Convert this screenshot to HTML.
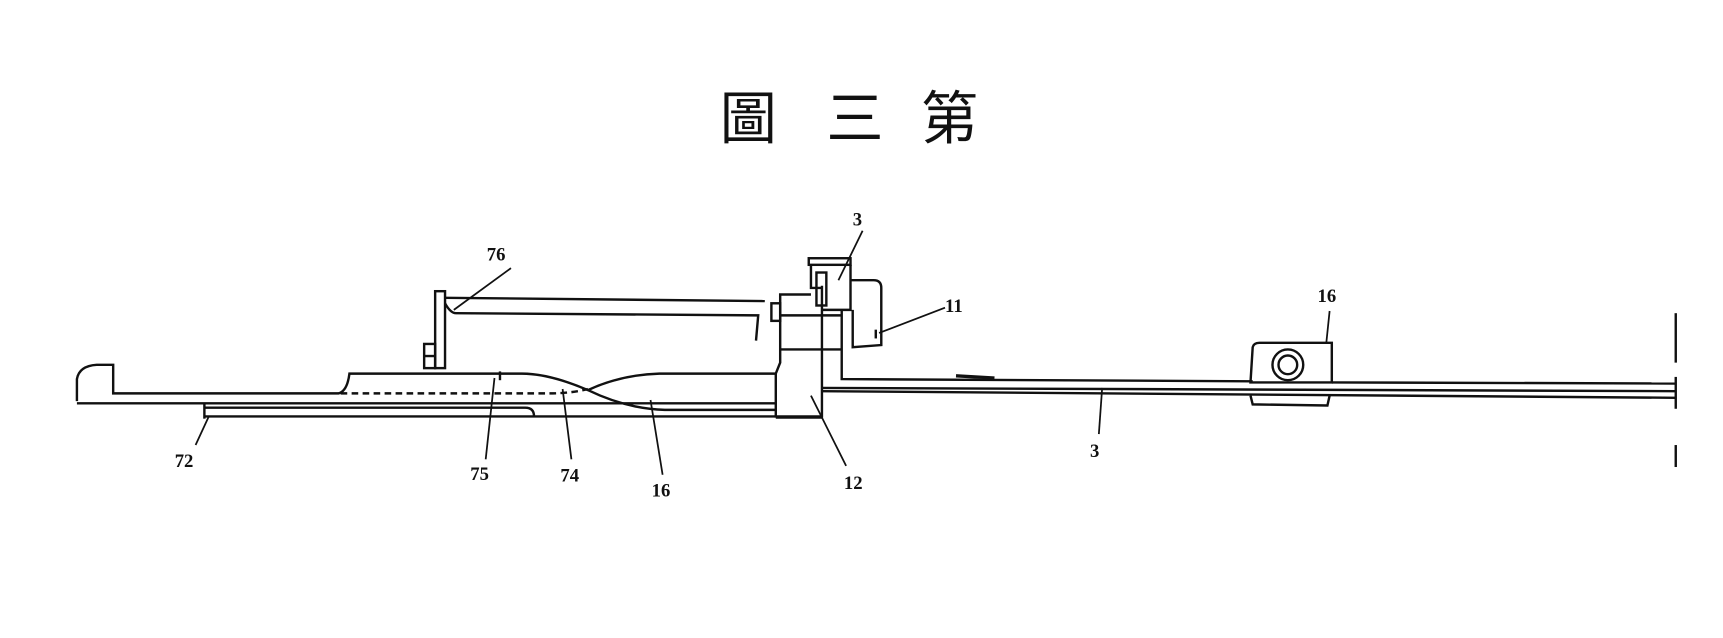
<!DOCTYPE html>
<html><head><meta charset="utf-8"><style>
html,body{margin:0;padding:0;background:#fff;}
svg{display:block}
text{font-family:"Liberation Serif","Noto Serif CJK SC",serif;fill:#111}
</style></head><body>
<svg width="1723" height="638" viewBox="0 0 1568 580.6" preserveAspectRatio="none" xmlns="http://www.w3.org/2000/svg">
<g font-size="52" fill="#222">
<text x="655" y="126" style="font-family:'Noto Sans CJK TC',sans-serif">圖</text>
<text x="752" y="126" style="font-family:'Noto Sans CJK TC',sans-serif">三</text>
<text x="838" y="126" style="font-family:'Noto Sans CJK TC',sans-serif">第</text>
</g>
<g fill="none" stroke="#111" stroke-width="2.2">
<path d="M70,365 L70,345 Q72,333 88,332 L103,332 L103,358 L308,358 Q316,356 318,340 L455,340"/>
<line x1="70" y1="367" x2="706" y2="367"/>
<line x1="186" y1="379" x2="748" y2="379"/>
<path d="M186,371 L478,371 Q486,371 486,379"/>
<line x1="186" y1="367" x2="186" y2="381"/>
<path d="M310,358 L500,358 Q520,358 535,354" stroke-dasharray="6,4"/>
<line x1="455" y1="338" x2="455" y2="346"/>
<path d="M455,340 L475,340 Q500,340 535,355 Q570,372 605,373 L706,373"/>
<path d="M535,355 Q565,341 600,340 L706,340"/>
<path d="M706,380 L706,340 L710,330 L710,268 L738,268"/>
<line x1="748" y1="260" x2="748" y2="380"/>
<line x1="706" y1="380" x2="748" y2="380"/>
<line x1="710" y1="287" x2="765" y2="287"/>
<line x1="710" y1="318" x2="765" y2="318"/>
<rect x="702" y="276" width="8" height="16"/>
<rect x="736" y="235" width="38" height="6"/>
<path d="M738,241 L738,262 L748,262"/>
<rect x="743" y="248" width="9" height="30"/>
<path d="M774,241 L774,282 L748,282"/>
<path d="M766,282 L766,345 L1140,347"/>
<path d="M774,255 L795,255 Q802,255 802,262 L802,314 L776,316 L776,282"/>
<path d="M797,300 L797,308"/>
<line x1="748" y1="353" x2="1525" y2="356"/>
<line x1="748" y1="356" x2="1525" y2="362"/>
<line x1="1212" y1="348" x2="1525" y2="349"/>
<line x1="870" y1="342" x2="905" y2="344" stroke-width="3"/>
<path d="M1138,348 L1140,316 Q1141,312 1146,312 L1212,312 L1212,348 Z"/>
<circle cx="1172" cy="332" r="14"/>
<circle cx="1172" cy="332" r="8.5"/>
<path d="M1138,360 L1140,368 L1208,369 L1210,360"/>
<rect x="396" y="265" width="9" height="70"/>
<rect x="386" y="313" width="10" height="22"/>
<line x1="386" y1="324" x2="396" y2="324"/>
<line x1="405" y1="271" x2="696" y2="274"/>
<path d="M405,276 Q410,285 415,285 L690,287 L688,310"/>
<line x1="1525" y1="285" x2="1525" y2="330"/>
<line x1="1525" y1="343" x2="1525" y2="372"/>
<line x1="1525" y1="405" x2="1525" y2="425"/>
<line x1="465" y1="244" x2="413" y2="282" stroke-width="1.6"/>
<line x1="785" y1="210" x2="763" y2="255" stroke-width="1.6"/>
<line x1="860" y1="280" x2="800" y2="303" stroke-width="1.6"/>
<line x1="1210" y1="283" x2="1207" y2="312" stroke-width="1.6"/>
<line x1="178" y1="405" x2="190" y2="379" stroke-width="1.6"/>
<line x1="442" y1="418" x2="450" y2="344" stroke-width="1.6"/>
<line x1="520" y1="418" x2="512" y2="354" stroke-width="1.6"/>
<line x1="603" y1="432" x2="592" y2="364" stroke-width="1.6"/>
<line x1="770" y1="424" x2="738" y2="360" stroke-width="1.6"/>
<line x1="1000" y1="395" x2="1003" y2="353" stroke-width="1.6"/>
</g>
<g font-size="17" font-weight="bold">
<text x="443" y="237">76</text>
<text x="776" y="205">3</text>
<text x="860" y="284">11</text>
<text x="1199" y="275">16</text>
<text x="159" y="425">72</text>
<text x="428" y="437">75</text>
<text x="510" y="438">74</text>
<text x="593" y="452">16</text>
<text x="768" y="445">12</text>
<text x="992" y="416">3</text>
</g>
</svg>
</body></html>
